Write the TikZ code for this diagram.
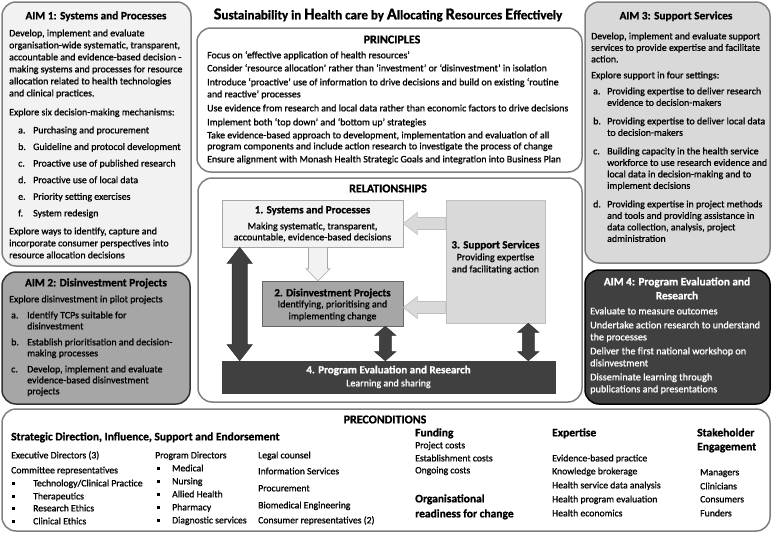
\documentclass[tikz,border=0pt]{standalone}
\usepackage{fontspec}
\setmainfont{Carlito}[FakeBold=1]
\usetikzlibrary{calc}

\definecolor{edgegray}{HTML}{7F7F7F}
\definecolor{paleg}{HTML}{F2F2F2}
\definecolor{lightg}{HTML}{D9D9D9}
\definecolor{silverg}{HTML}{BFBFBF}
\definecolor{midg}{HTML}{A6A6A6}
\definecolor{darkg}{HTML}{404040}

\newcommand{\tcap}[1]{{\fontsize{16.5}{18}\selectfont #1}}
\newcommand{\sq}{\rule[1.4pt]{2.6pt}{2.6pt}}

% single block arrow: style, from, to, half shaft, half head, head length
\newcommand{\onearrow}[6]{%
  \path ($(#3)!#6!(#2)$) coordinate (oa-n);
  \draw[#1] ($(#2)!#4!90:(#3)$) -- ($(oa-n)!#4!90:(#3)$) -- ($(oa-n)!#5!90:(#3)$) -- (#3)
    -- ($(oa-n)!#5!-90:(#3)$) -- ($(oa-n)!#4!-90:(#3)$) -- ($(#2)!#4!-90:(#3)$) -- cycle;
}
% double block arrow
\newcommand{\twoarrow}[6]{%
  \path ($(#3)!#6!(#2)$) coordinate (ta-n) ($(#2)!#6!(#3)$) coordinate (ta-m);
  \draw[#1] (#2) -- ($(ta-m)!#5!90:(#3)$) -- ($(ta-m)!#4!90:(#3)$) -- ($(ta-n)!#4!90:(#3)$)
    -- ($(ta-n)!#5!90:(#3)$) -- (#3) -- ($(ta-n)!#5!-90:(#3)$) -- ($(ta-n)!#4!-90:(#3)$)
    -- ($(ta-m)!#4!-90:(#3)$) -- ($(ta-m)!#5!-90:(#3)$) -- cycle;
}

\tikzset{
  panel/.style={rounded corners=14pt, line width=1.5pt, draw=edgegray},
  rbox/.style={draw, line width=0.6pt, inner sep=0pt},
  txt/.style={anchor=mid west, inner sep=0pt, font=\fontsize{9.9}{11}\selectfont},
  small/.style={anchor=mid west, inner sep=0pt, font=\fontsize{9.7}{11}\selectfont},
  ctxt/.style={anchor=mid, inner sep=0pt, font=\fontsize{10}{11}\selectfont},
  head/.style={anchor=mid, inner sep=0pt, font=\bfseries\fontsize{11.3}{13}\selectfont},
  big/.style={anchor=mid, inner sep=0pt, font=\bfseries\fontsize{12}{14}\selectfont},
  rhead/.style={anchor=mid, inner sep=0pt, font=\bfseries\fontsize{11}{13}\selectfont},
  sub/.style={anchor=mid west, inner sep=0pt, font=\bfseries\fontsize{11.5}{13}\selectfont},
  larrow/.style={fill=lightg, draw=silverg, line width=0.6pt},
  parrow/.style={fill=paleg, draw=midg, line width=0.6pt},
  darrow/.style={fill=darkg, draw=black!80, line width=0.6pt},
}

\begin{document}
\begin{tikzpicture}[x=1pt,y=-1pt]
\useasboundingbox (0,0) rectangle (772,533);

\node[inner sep=0pt, font=\bfseries\fontsize{13}{15}\selectfont] (title) at (388,15)
  {\tcap{S}ustainability in \tcap{H}ealth care by \tcap{A}llocating \tcap{R}esources \tcap{E}ffectively};

% panels
\draw[panel, fill=paleg] (2,2) rectangle (191,266);
\draw[panel, fill=midg, draw=black!80] (2,272) rectangle (190,404);
\draw[panel, fill=lightg] (585,2) rectangle (770,263);
\draw[panel, fill=darkg, draw=black] (585,270) rectangle (770,404);
\draw[panel, fill=white] (197,28) rectangle (582,172);
\draw[panel, fill=white] (198,178) rectangle (582,402);
\draw[panel, fill=white] (2,409) rectangle (770,531);

% aim 1
\node[head] (a1) at (96,17) {AIM 1: Systems and Processes};
\foreach \y/\t [count=\i] in {34/{Develop, implement and evaluate},
    46/{organisation-wide systematic, transparent,},
    58/{accountable and evidence-based decision -},
    70/{making systems and processes for resource},
    82/{allocation related to health technologies},
    94/{and clinical practices.},
    113/{Explore six decision-making mechanisms:},
    232/{Explore ways to identify, capture and},
    244/{incorporate consumer perspectives into},
    256/{resource allocation decisions}}
  \node[txt] (a1p\i) at (9,\y) {\t};
\foreach \l/\t [count=\i from 0] in {a./Purchasing and procurement,
    b./Guideline and protocol development, c./Proactive use of published research,
    d./Proactive use of local data, e./Priority setting exercises, f./System redesign} {
  \node[txt] (a1l\i) at (18,131+16.6*\i) {\l};
  \node[txt] (a1i\i) at (33,131+16.6*\i) {\t};
}

% aim 2
\node[head] (a2) at (96,284) {AIM 2: Disinvestment Projects};
\foreach \y/\x/\t [count=\i] in {300/9/{Explore disinvestment in pilot projects},
    316/11/a., 316/27/{Identify TCPs suitable for}, 327/27/disinvestment,
    343/11/b., 343/27/{Establish prioritisation and decision-}, 354/27/{making processes},
    370/11/c., 370/27/{Develop, implement and evaluate}, 381/27/{evidence-based disinvestment},
    392/27/projects}
  \node[txt] (a2p\i) at (\x,\y) {\t};

% aim 3
\node[head] (a3) at (676,17) {AIM 3: Support Services};
\foreach \y/\x/\t [count=\i] in {37/591/{Develop, implement and evaluate support},
    48.5/591/{services to provide expertise and facilitate}, 60/591/action.,
    76/591/{Explore support in four settings:},
    92/593/a., 92/607/{Providing expertise to deliver research}, 103.5/607/{evidence  to decision-makers},
    122/593/b., 122/607/{Providing expertise to deliver local data}, 133.5/607/to decision-makers,
    152/593/c., 152/607/{Building capacity in the health service},
    163.5/607/{workforce to use research evidence and},
    175/607/{local data in decision-making and to}, 186.5/607/implement decisions,
    205/593/d., 205/607/{Providing expertise in project methods},
    216.5/607/{and tools and providing assistance in},
    228/607/{data collection, analysis, project}, 239.5/607/administration}
  \node[txt, font=\fontsize{9.9}{11}\selectfont] (a3p\i) at (\x,\y) {\t};

% aim 4
\node[head, text=white] (a4) at (677,283) {AIM 4: Program Evaluation and};
\node[head, text=white] (a4b) at (677,297) {Research};
\foreach \y/\t [count=\i] in {312/{Evaluate to measure outcomes},
    326/{Undertake action research to understand}, 338/{the processes},
    352/{Deliver the first national workshop on}, 364/{disinvestment},
    378/{Disseminate learning through}, 390/{publications and presentations}}
  \node[txt, text=white, font=\fontsize{10.2}{11}\selectfont] (a4p\i) at (590,\y) {\t};

% principles
\node[big] (pr) at (392,41) {PRINCIPLES};
\foreach \y/\t [count=\i] in {56/{Focus on `effective application of health resources'},
    69/{Consider `resource allocation' rather than `investment' or `disinvestment' in isolation},
    83/{Introduce `proactive' use of information to drive decisions and build on existing `routine},
    95/{and reactive' processes},
    109/{Use evidence from research and local data rather than economic factors to drive decisions},
    123/{Implement both `top down' and `bottom up' strategies},
    136/{Take evidence-based approach to development, implementation and evaluation of all},
    147/{program components  and include action research to investigate the process of change},
    160/{Ensure alignment with Monash Health Strategic Goals and integration into Business Plan}}
  \node[txt, font=\fontsize{9.9}{11}\selectfont] (pr\i) at (207,\y) {\t};

% relationships
\node[big] (rel) at (388,190) {RELATIONSHIPS};
\node[rbox, fill=paleg, draw=midg, minimum width=181, minimum height=47] (sys) at (312.5,223.5) {};
\node[rbox, fill=midg, draw=darkg!80, minimum width=141, minimum height=45] (dis) at (332.5,303.5) {};
\node[rbox, fill=lightg, draw=silverg, minimum width=99, minimum height=123] (sup) at (495.5,261.5) {};
\node[rbox, fill=darkg, draw=darkg, minimum width=333, minimum height=32] (ev) at (388.5,377) {};

\node[rhead] (syst) at (312.5,211) {1. Systems and Processes};
\node[ctxt] (sys1) at (312.5,227) {Making systematic, transparent,};
\node[ctxt] (sys2) at (312.5,238) {accountable, evidence-based decisions};
\node[rhead] (dist) at (332.5,294) {2. Disinvestment Projects};
\node[ctxt] (dis1) at (332.5,305) {Identifying, prioritising and};
\node[ctxt] (dis2) at (332.5,317) {implementing change};
\node[rhead] (supt) at (495.5,246) {3. Support Services};
\node[ctxt] (sup1) at (495.5,258) {Providing expertise};
\node[ctxt] (sup2) at (495.5,270) {and facilitating action};
\node[rhead, text=white] (evt) at (388.5,371) {4. Program Evaluation and Research};
\node[ctxt, text=white] (ev1) at (388.5,384) {Learning and  sharing};

\coordinate (h1) at (sup.west |- sys.east);
\onearrow{larrow}{h1}{sys.east}{6pt}{11pt}{14pt}
\coordinate (h2e) at ([yshift=-4pt]dis.east);
\coordinate (h2) at (sup.west |- h2e);
\onearrow{larrow}{h2}{h2e}{6pt}{11pt}{14pt}
\coordinate (v1) at ([xshift=5.5pt]sys.south);
\coordinate (v2) at (v1 |- dis.north);
\onearrow{parrow}{v1}{v2}{9.5pt}{12pt}{12pt}
\coordinate (l1) at ([xshift=18pt]sys.south west);
\coordinate (l2) at (l1 |- ev.north);
\twoarrow{darrow}{l1}{l2}{7.5pt}{12.5pt}{16pt}
\coordinate (m1) at ([xshift=-18pt]dis.south east);
\coordinate (m2) at (m1 |- ev.north);
\twoarrow{darrow}{m1}{m2}{6pt}{10.5pt}{9pt}
\coordinate (r1) at ([xshift=-17pt]sup.south east);
\coordinate (r2) at (r1 |- ev.north);
\twoarrow{darrow}{r1}{r2}{6pt}{10.5pt}{9pt}

% preconditions
\node[big] (pre) at (385,421) {PRECONDITIONS};
\node[sub] (strat) at (11,438) {Strategic Direction, Influence, Support and Endorsement};
\node[small] (exd) at (11,456) {Executive Directors (3)};
\node[small] (com) at (11,471) {Committee representatives};
\foreach \y/\t [count=\i] in {484/{Technology/Clinical Practice}, 497/Therapeutics,
    509/Research Ethics, 522/Clinical Ethics} {
  \node[small] (cb\i) at (12,\y) {\sq};
  \node[small] (ct\i) at (33,\y) {\t};
}
\node[small] (prd) at (155,456) {Program Directors};
\foreach \y/\t [count=\i] in {469/Medical, 482/Nursing, 495/Allied Health,
    508/Pharmacy, 521/Diagnostic services} {
  \node[small] (pb\i) at (157,\y) {\sq};
  \node[small] (pt\i) at (172,\y) {\t};
}
\foreach \y/\t [count=\i] in {456/Legal counsel, 472/Information Services, 489/Procurement,
    506/Biomedical Engineering, 521/Consumer representatives (2)}
  \node[small] (oth\i) at (258,\y) {\t};

\node[sub] (fund) at (415,434) {Funding};
\foreach \y/\t [count=\i] in {446/Project costs, 459/Establishment costs, 471/Ongoing costs}
  \node[small] (fu\i) at (415,\y) {\t};
\node[sub] (org) at (415,500) {Organisational};
\node[sub] (org2) at (415,515) {readiness for change};

\node[sub] (exp) at (552,434) {Expertise};
\foreach \y/\t [count=\i] in {459/Evidence-based practice, 472/Knowledge brokerage,
    486/Health service data analysis, 500/Health program evaluation, 514/Health economics}
  \node[small] (ex\i) at (552,\y) {\t};

\node[sub] (stk) at (697,434) {Stakeholder};
\node[sub] (stk2) at (697,448) {Engagement};
\foreach \y/\t [count=\i] in {473/Managers, 487/Clinicians, 500/Consumers, 514/Funders}
  \node[small] (sh\i) at (700,\y) {\t};
\end{tikzpicture}
\end{document}
